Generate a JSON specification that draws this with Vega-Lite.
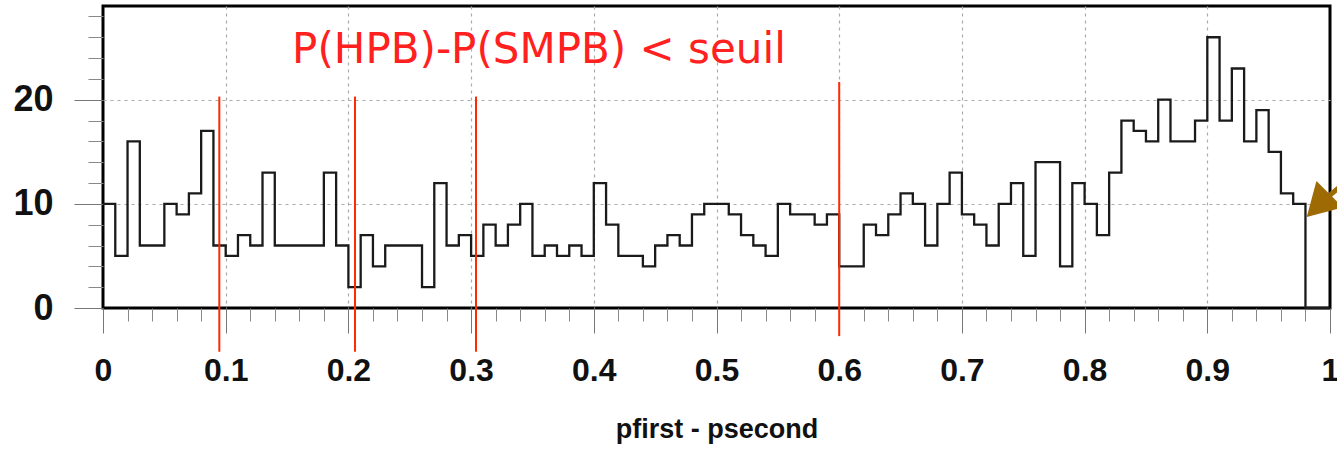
{
  "$schema": "https://vega.github.io/schema/vega-lite/v6.json",
  "width": 1227,
  "height": 302,
  "autosize": "none",
  "padding": {"left": 103, "top": 6, "right": 7, "bottom": 147},
  "background": "white",
  "config": {
    "view": {"stroke": "#000", "strokeWidth": 3},
    "axis": {"labelFont": "Liberation Sans", "titleFont": "Liberation Sans", "labelColor": "#111", "titleColor": "#111"}
  },
  "datasets": {
    "hist": [
      {"x": 0.00, "count": 10}, {"x": 0.01, "count": 5}, {"x": 0.02, "count": 16}, {"x": 0.03, "count": 6}, {"x": 0.04, "count": 6},
      {"x": 0.05, "count": 10}, {"x": 0.06, "count": 9}, {"x": 0.07, "count": 11}, {"x": 0.08, "count": 17}, {"x": 0.09, "count": 6},
      {"x": 0.10, "count": 5}, {"x": 0.11, "count": 7}, {"x": 0.12, "count": 6}, {"x": 0.13, "count": 13}, {"x": 0.14, "count": 6},
      {"x": 0.15, "count": 6}, {"x": 0.16, "count": 6}, {"x": 0.17, "count": 6}, {"x": 0.18, "count": 13}, {"x": 0.19, "count": 6},
      {"x": 0.20, "count": 2}, {"x": 0.21, "count": 7}, {"x": 0.22, "count": 4}, {"x": 0.23, "count": 6}, {"x": 0.24, "count": 6},
      {"x": 0.25, "count": 6}, {"x": 0.26, "count": 2}, {"x": 0.27, "count": 12}, {"x": 0.28, "count": 6}, {"x": 0.29, "count": 7},
      {"x": 0.30, "count": 5}, {"x": 0.31, "count": 8}, {"x": 0.32, "count": 6}, {"x": 0.33, "count": 8}, {"x": 0.34, "count": 10},
      {"x": 0.35, "count": 5}, {"x": 0.36, "count": 6}, {"x": 0.37, "count": 5}, {"x": 0.38, "count": 6}, {"x": 0.39, "count": 5},
      {"x": 0.40, "count": 12}, {"x": 0.41, "count": 8}, {"x": 0.42, "count": 5}, {"x": 0.43, "count": 5}, {"x": 0.44, "count": 4},
      {"x": 0.45, "count": 6}, {"x": 0.46, "count": 7}, {"x": 0.47, "count": 6}, {"x": 0.48, "count": 9}, {"x": 0.49, "count": 10},
      {"x": 0.50, "count": 10}, {"x": 0.51, "count": 9}, {"x": 0.52, "count": 7}, {"x": 0.53, "count": 6}, {"x": 0.54, "count": 5},
      {"x": 0.55, "count": 10}, {"x": 0.56, "count": 9}, {"x": 0.57, "count": 9}, {"x": 0.58, "count": 8}, {"x": 0.59, "count": 9},
      {"x": 0.60, "count": 4}, {"x": 0.61, "count": 4}, {"x": 0.62, "count": 8}, {"x": 0.63, "count": 7}, {"x": 0.64, "count": 9},
      {"x": 0.65, "count": 11}, {"x": 0.66, "count": 10}, {"x": 0.67, "count": 6}, {"x": 0.68, "count": 10}, {"x": 0.69, "count": 13},
      {"x": 0.70, "count": 9}, {"x": 0.71, "count": 8}, {"x": 0.72, "count": 6}, {"x": 0.73, "count": 10}, {"x": 0.74, "count": 12},
      {"x": 0.75, "count": 5}, {"x": 0.76, "count": 14}, {"x": 0.77, "count": 14}, {"x": 0.78, "count": 4}, {"x": 0.79, "count": 12},
      {"x": 0.80, "count": 10}, {"x": 0.81, "count": 7}, {"x": 0.82, "count": 13}, {"x": 0.83, "count": 18}, {"x": 0.84, "count": 17},
      {"x": 0.85, "count": 16}, {"x": 0.86, "count": 20}, {"x": 0.87, "count": 16}, {"x": 0.88, "count": 16}, {"x": 0.89, "count": 18},
      {"x": 0.90, "count": 26}, {"x": 0.91, "count": 18}, {"x": 0.92, "count": 23}, {"x": 0.93, "count": 16}, {"x": 0.94, "count": 19},
      {"x": 0.95, "count": 15}, {"x": 0.96, "count": 11}, {"x": 0.97, "count": 10}, {"x": 0.98, "count": 0}, {"x": 0.99, "count": 0},
      {"x": 1.00, "count": 0}
    ],
    "cuts": [
      {"x": 0.0948, "top": 20.3, "bottom": -4.2},
      {"x": 0.2054, "top": 20.3, "bottom": -4.2},
      {"x": 0.304, "top": 20.3, "bottom": -4.2},
      {"x": 0.600, "top": 21.7, "bottom": -2.7}
    ],
    "label": [
      {"x": 0.3553, "y": 23.5, "text": "P(HPB)-P(SMPB) < seuil"}
    ],
    "arrow": [
      {"x": 0.9935, "y": 10.2, "x2": 1.03, "y2": 13.8}
    ]
  },
  "resolve": {"axis": {"x": "independent", "y": "independent"}},
  "layer": [
    {
      "data": {"name": "hist"},
      "mark": {"type": "line", "interpolate": "step-after", "color": "#1a1a1a", "strokeWidth": 2.3},
      "encoding": {
        "x": {
          "field": "x", "type": "quantitative",
          "scale": {"domain": [0, 1], "nice": false, "zero": false},
          "axis": {
            "orient": "bottom",
            "values": [0, 0.1, 0.2, 0.3, 0.4, 0.5, 0.6, 0.7, 0.8, 0.9, 1],
            "format": "~g",
            "domain": false,
            "tickSize": 25, "tickColor": "#777", "tickWidth": 1,
            "labelFontSize": 32, "labelFontWeight": "bold", "labelPadding": 22, "labelFlush": false,
            "grid": true,
            "gridColor": {"condition": {"test": "datum.value === 0 || datum.value === 1", "value": "transparent"}, "value": "#aaa"},
            "gridDash": [3, 4], "gridWidth": 1.2,
            "title": "pfirst - psecond", "titleFontSize": 27, "titleFontWeight": "bold",
            "titleY": 129, "titleBaseline": "alphabetic"
          }
        },
        "y": {
          "field": "count", "type": "quantitative",
          "scale": {"domain": [0, 29], "nice": false},
          "axis": {
            "orient": "left",
            "values": [0, 10, 20],
            "domain": false,
            "tickSize": 29, "tickColor": "#777", "tickWidth": 1,
            "labelFontSize": 36, "labelFontWeight": "bold", "labelPadding": 21,
            "grid": true,
            "gridColor": {"condition": {"test": "datum.value === 0", "value": "transparent"}, "value": "#aaa"},
            "gridDash": [3, 4], "gridWidth": 1.2,
            "title": null
          }
        }
      }
    },
    {
      "data": {"name": "cuts"},
      "mark": {"type": "rule", "color": "#ff2a00", "strokeWidth": 2},
      "encoding": {
        "x": {
          "field": "x", "type": "quantitative",
          "scale": {"domain": [0, 1], "nice": false, "zero": false},
          "axis": {
            "orient": "bottom",
            "values": [0.02, 0.04, 0.06, 0.08, 0.12, 0.14, 0.16, 0.18, 0.22, 0.24, 0.26, 0.28, 0.32, 0.34, 0.36, 0.38, 0.42, 0.44, 0.46, 0.48, 0.52, 0.54, 0.56, 0.58, 0.62, 0.64, 0.66, 0.68, 0.72, 0.74, 0.76, 0.78, 0.82, 0.84, 0.86, 0.88, 0.92, 0.94, 0.96, 0.98],
            "domain": false, "labels": false, "grid": false, "title": null,
            "tickSize": 13, "tickColor": "#888", "tickWidth": 1
          }
        },
        "y": {
          "field": "top", "type": "quantitative",
          "scale": {"domain": [0, 29], "nice": false},
          "axis": {
            "orient": "left",
            "values": [2, 4, 6, 8, 12, 14, 16, 18, 22, 24, 26, 28],
            "domain": false, "labels": false, "grid": false, "title": null,
            "tickSize": 15, "tickColor": "#888", "tickWidth": 1
          }
        },
        "y2": {"field": "bottom"}
      }
    },
    {
      "data": {"name": "label"},
      "mark": {"type": "text", "color": "#ff2020", "font": "DejaVu Sans", "fontSize": 42, "align": "center", "baseline": "alphabetic"},
      "encoding": {
        "x": {"field": "x", "type": "quantitative", "axis": null},
        "y": {"field": "y", "type": "quantitative", "axis": null},
        "text": {"field": "text"}
      }
    },
    {
      "data": {"name": "arrow"},
      "mark": {"type": "rule", "color": "#9e6a03", "strokeWidth": 5},
      "encoding": {
        "x": {"field": "x", "type": "quantitative", "axis": null},
        "y": {"field": "y", "type": "quantitative", "axis": null},
        "x2": {"field": "x2"},
        "y2": {"field": "y2"}
      }
    },
    {
      "data": {"name": "arrow"},
      "mark": {"type": "point", "shape": "triangle", "filled": true, "color": "#9e6a03", "opacity": 1, "size": 1400, "angle": 225},
      "encoding": {
        "x": {"field": "x", "type": "quantitative", "axis": null},
        "y": {"field": "y", "type": "quantitative", "axis": null}
      }
    }
  ]
}
